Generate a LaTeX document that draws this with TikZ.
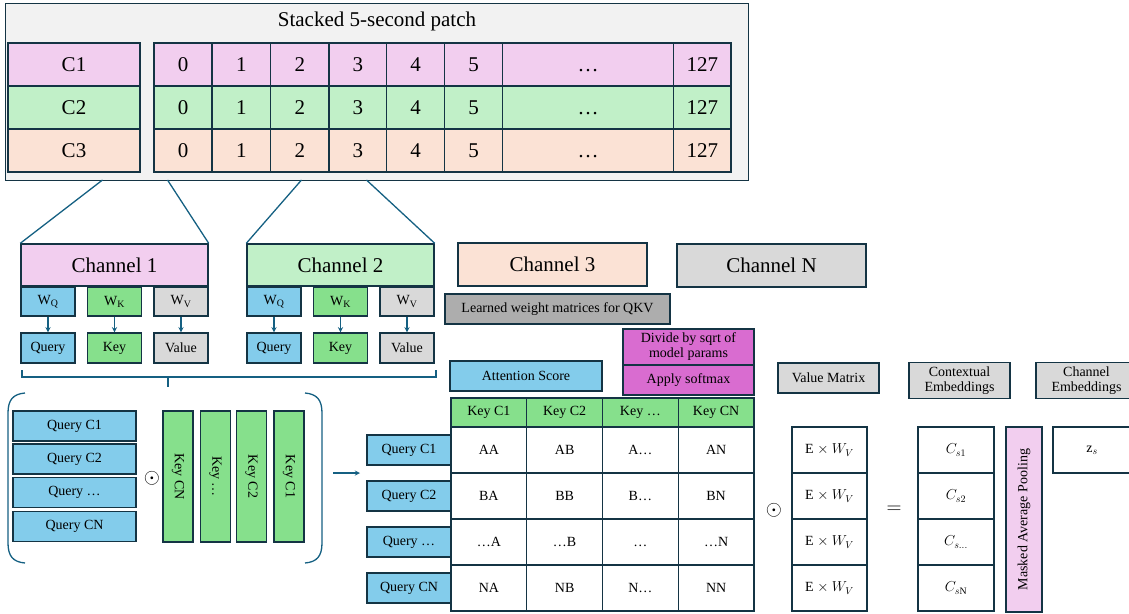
\documentclass[tikz,border=0pt]{standalone}
\usepackage{fontspec}
\setmainfont{Liberation Serif}
\usetikzlibrary{positioning}

\definecolor{edgec}{RGB}{20,52,68}
\definecolor{wirec}{RGB}{21,96,130}
\definecolor{framec}{RGB}{242,242,242}
\definecolor{pinkc}{RGB}{242,206,239}
\definecolor{greenc}{RGB}{193,240,200}
\definecolor{peachc}{RGB}{251,226,213}
\definecolor{queryc}{RGB}{131,204,235}
\definecolor{keyc}{RGB}{134,224,140}
\definecolor{greyc}{RGB}{217,217,217}
\definecolor{darkgreyc}{RGB}{173,173,173}
\definecolor{softc}{RGB}{217,108,208}

\begin{document}
\begin{tikzpicture}[x=1pt, y=-1pt, >=stealth,
  box/.style={draw=edgec, line width=1.4pt, rectangle, inner sep=0pt, text centered},
  bigcell/.style={text height=14.2pt, text depth=0pt},
  smallcell/.style={text height=9.5pt, text depth=0pt},
  bigtext/.style={font=\fontsize{21}{24}\selectfont},
  smalltext/.style={font=\fontsize{14}{15}\selectfont},
  wire/.style={draw=wirec, line width=1.3pt}]
\useasboundingbox (0,0) rectangle (1129,613);

% stacked patch
\node[box, fill=framec, minimum width=743, minimum height=177, anchor=north west] (patch) at (5,3) {};
\node[bigtext] (title) at (377,21) {Stacked 5-second patch};
\foreach \c/\col [count=\i] in {C1/pinkc, C2/greenc, C3/peachc} {
  \node[box, bigtext, bigcell, fill=\col, minimum width=132, minimum height=43] (lab\i) at (74,21.5+43*\i) {\c};
  \foreach \l/\w/\t [count=\j] in {154/58/0, 212/58.5/1, 270.5/58.5/2, 329/57.5/3, 386.5/58/4, 444.5/58/5, 502.5/171/…, 673.5/57.5/127}
    \node[box, bigtext, bigcell, fill=\col, minimum width=\w, minimum height=43] (p\i-\j) at (\l+\w/2,21.5+43*\i) {\t};
}

% channels
\node[box, bigtext, fill=pinkc, minimum width=187, minimum height=42] (ch1) at (114.5,265) {Channel 1};
\node[box, bigtext, fill=greenc, minimum width=187, minimum height=42] (ch2) at (340.5,265) {Channel 2};
\node[box, bigtext, fill=peachc, minimum width=189, minimum height=43] (ch3) at (552.5,264.5) {Channel 3};
\node[box, bigtext, fill=greyc, minimum width=189, minimum height=43] (chN) at (771.5,265.5) {Channel N};
\node[box, smalltext, fill=darkgreyc, minimum width=225, minimum height=30] (learned) at (557.5,309) {Learned weight matrices for QKV};

\coordinate (f1a) at (102.5,180);
\coordinate (f1b) at (167.5,180);
\coordinate (f2a) at (301.5,180);
\coordinate (f2b) at (366.5,180);
\draw[wire] (f1a) -- (ch1.north west);
\draw[wire] (f1b) -- (ch1.north east);
\draw[wire] (f2a) -- (ch2.north west);
\draw[wire] (f2b) -- (ch2.north east);

% W -> Q K V
\foreach \k/\cx in {1/114.5, 2/340.5}
  \foreach \m/\out/\col [count=\j] in {Q/Query/queryc, K/Key/keyc, V/Value/greyc} {
    \node[box, smalltext, fill=\col, minimum width=54, minimum height=29] (w\m\k) at (\cx+66.5*\j-133,301.5) {W\textsubscript{\m}};
    \node[box, smalltext, fill=\col, minimum width=54, minimum height=30] (o\m\k) at (\cx+66.5*\j-133,348) {\out};
    \draw[wire, ->] (w\m\k) -- (o\m\k);
  }

% brace and parentheses
\draw[wire] (22,370) -- (22,377) -- (436,377) -- (436,370);
\draw[wire] (168,377) -- (168,387);
\draw[wire] (25,393) .. controls (13,394) and (8,400) .. (8,413) -- (8,543) .. controls (8,556) and (13,562) .. (25,563);
\draw[wire] (305,393) .. controls (317,394) and (322,400) .. (322,413) -- (322,543) .. controls (322,556) and (317,562) .. (305,563);

% queries times keys
\foreach \t/\cy [count=\i] in {C1/426, C2/459, …/492.5, CN/526.5}
  \node[box, smalltext, fill=queryc, minimum width=123, minimum height=30] (lq\i) at (74.5,\cy) {Query \t};
\node[bigtext] (dot1) at (152,478) {$\odot$};
\foreach \t/\cx [count=\i] in {CN/178, …/215.5, C2/251.5, C1/289}
  \node[box, smalltext, fill=keyc, rotate=-90, minimum width=131, minimum height=30] (lk\i) at (\cx,476.5) {Key \t};

\coordinate (rp) at (333,473);
\coordinate (mq) at (360,473);
\draw[wire, ->] (rp) -- (mq);

% attention score
\node[box, smalltext, fill=queryc, minimum width=152, minimum height=30] (score) at (526,376) {Attention Score};
\node[box, smalltext, fill=softc, minimum width=131, minimum height=36, align=center] (divide) at (688.5,347) {Divide by sqrt of\\model params};
\node[box, smalltext, fill=softc, minimum width=131, minimum height=30] (softmax) at (688.5,380) {Apply softmax};
\foreach \t [count=\j] in {C1, C2, …, CN}
  \node[box, smalltext, fill=keyc, minimum width=75.75, minimum height=29] (hk\j) at (451+75.75*\j-37.875,412.5) {Key \t};
\foreach \t [count=\i] in {C1, C2, …, CN}
  \node[box, smalltext, fill=queryc, minimum width=84, minimum height=30] (mq\i) at (409,404+46*\i) {Query \t};
\foreach \row [count=\i] in {{AA,AB,A…,AN},{BA,BB,B…,BN},{…A,…B,…,…N},{NA,NB,N…,NN}}
  \foreach \t [count=\j] in \row
    \node[box, smalltext, smallcell, minimum width=75.75, minimum height=46] (a\i-\j) at (451+75.75*\j-37.875,404+46*\i) {\t};

% values
\node[bigtext] (dot2) at (774,510) {$\odot$};
\node[box, smalltext, fill=greyc, minimum width=101, minimum height=30] (vmat) at (828.5,378) {Value Matrix};
\foreach \i in {1,...,4}
  \node[box, smalltext, minimum width=75, minimum height=46] (ev\i) at (829.5,404+46*\i) {E $\times$ $W_V$};
\node[bigtext] (eq) at (894,510) {$=$};

% embeddings
\node[box, smalltext, fill=greyc, minimum width=101, minimum height=36, align=center] (ctx) at (959.5,380.5) {Contextual\\Embeddings};
\node[box, smalltext, fill=greyc, minimum width=101, minimum height=36, align=center] (chemb) at (1086.5,380.5) {Channel\\Embeddings};
\foreach \t [count=\i] in {1, 2, \ldots, \mathrm{N}}
  \node[box, smalltext, minimum width=76, minimum height=46] (cs\i) at (956,404+46*\i) {$C_{s\t}$};
\node[box, smalltext, fill=pinkc, rotate=90, minimum width=185, minimum height=36] (pool) at (1024,519.5) {Masked Average Pooling};
\node[box, smalltext, minimum width=78, minimum height=46] (zs) at (1092,450) {$\mathrm{z}_s$};
\end{tikzpicture}
\end{document}
